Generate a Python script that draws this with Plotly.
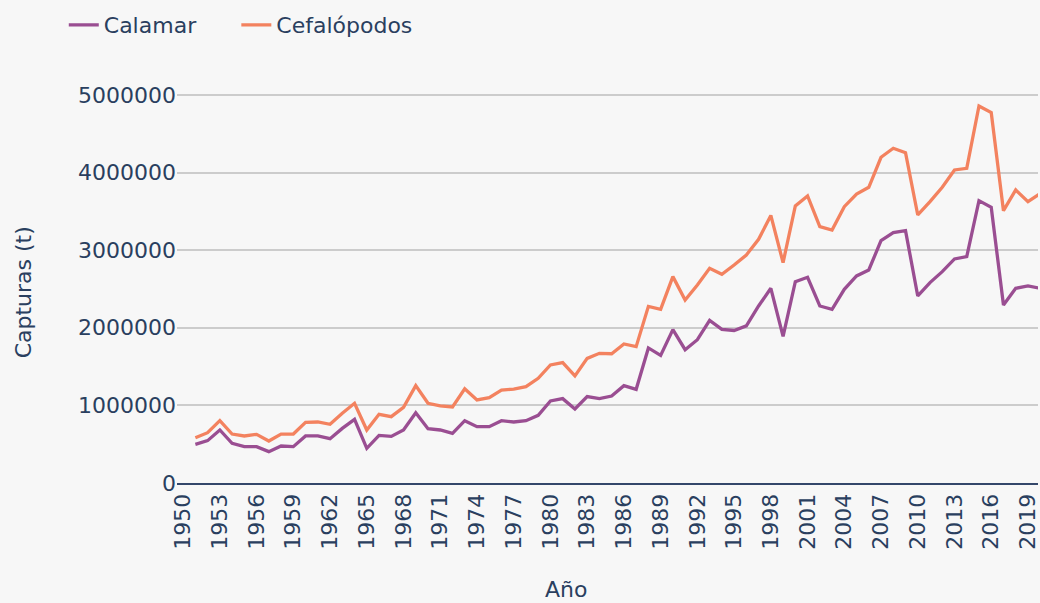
import plotly.graph_objects as go

years = list(range(1951, 2021))

calamar = [
    498000, 546000, 683000, 511000, 468000, 468000, 404000, 477000, 468000, 606000,
    606000, 571000, 704000, 820000, 447000, 614000, 601000, 683000, 906000, 700000,
    683000, 640000, 803000, 726000, 726000, 803000, 786000, 803000, 872000, 1057000,
    1087000, 954000, 1113000, 1087000, 1121000, 1254000, 1207000, 1740000, 1645000, 1976000,
    1718000, 1847000, 2096000, 1980000, 1965000, 2025000, 2281000, 2509000, 1890000, 2594000,
    2651000, 2281000, 2238000, 2496000, 2668000, 2745000, 3123000, 3226000, 3252000, 2410000,
    2582000, 2723000, 2887000, 2917000, 3638000, 3552000, 2294000, 2509000, 2539000, 2510000,
]

cefalopodos = [
    584000, 648000, 803000, 631000, 606000, 627000, 541000, 631000, 631000, 782000,
    786000, 756000, 898000, 1027000, 683000, 885000, 855000, 975000, 1254000, 1027000,
    995000, 980000, 1215000, 1070000, 1100000, 1198000, 1211000, 1241000, 1349000, 1521000,
    1551000, 1379000, 1606000, 1671000, 1666000, 1791000, 1757000, 2276000, 2238000, 2659000,
    2358000, 2552000, 2766000, 2690000, 2809000, 2938000, 3140000, 3448000, 2840000, 3570000,
    3698000, 3303000, 3260000, 3561000, 3724000, 3810000, 4197000, 4313000, 4257000, 3454000,
    3625000, 3810000, 4034000, 4055000, 4858000, 4772000, 3509000, 3776000, 3625000, 3730000,
]

tick_years = list(range(1950, 2020, 3))
y_ticks = [0, 1000000, 2000000, 3000000, 4000000, 5000000]

series_names = ["Calamar", "Cefalópodos"]
colors = ["#9a4e92", "#f3825f"]
text_color = "#2a3f5f"
font_family = "DejaVu Sans"
fs = 22

fig = go.Figure()
for i, (name, vals, col) in enumerate(zip(series_names, [calamar, cefalopodos], colors)):
    fig.add_trace(go.Scatter(
        x=years, y=vals, mode="lines", name=name,
        line=dict(color=col, width=3.3),
        legend="legend" if i == 0 else "legend2",
    ))

legend_common = dict(
    orientation="h", xanchor="left", y=1.07, yanchor="middle",
    font=dict(size=fs, color=text_color), bgcolor="rgba(0,0,0,0)",
)

fig.update_layout(
    width=1040, height=603,
    margin=dict(l=177, r=0, t=55, b=120),
    paper_bgcolor="#f7f7f7", plot_bgcolor="#f7f7f7",
    font=dict(family=font_family, size=fs, color=text_color),
    showlegend=True,
    legend=dict(x=-0.1315, **legend_common),
    legend2=dict(x=0.0689, **legend_common),
    xaxis=dict(
        range=[1949.5, 2019.82], tickmode="array", tickvals=tick_years,
        ticktext=[str(t) for t in tick_years], tickangle=-90,
        showgrid=False, zeroline=False, showline=True,
        linecolor="#34476a", linewidth=2, ticks="",
        ticklabeloverflow="allow",
        tickfont=dict(size=fs, color=text_color),
    ),
    yaxis=dict(
        range=[0, 5515000], tickmode="array", tickvals=y_ticks,
        ticktext=[str(v) for v in y_ticks],
        showgrid=True, gridcolor="#cccccc", gridwidth=2,
        zeroline=False, showline=False, ticks="",
        tickfont=dict(size=fs, color=text_color),
    ),
    annotations=[
        dict(text="Año", xref="paper", yref="paper", x=(567 - 177) / 863,
             y=(483 - 589) / 428, xanchor="center", yanchor="middle",
             showarrow=False, font=dict(size=fs, color=text_color)),
        dict(text="Capturas (t)", xref="paper", yref="paper", x=(23 - 177) / 863,
             y=(483 - 292) / 428, xanchor="center", yanchor="middle", textangle=-90,
             showarrow=False, font=dict(size=fs, color=text_color)),
    ],
)

fig.write_html(
    "out.html",
    config={"displayModeBar": False},
    post_script="document.body.style.margin='0';document.body.style.overflow='hidden';",
)
